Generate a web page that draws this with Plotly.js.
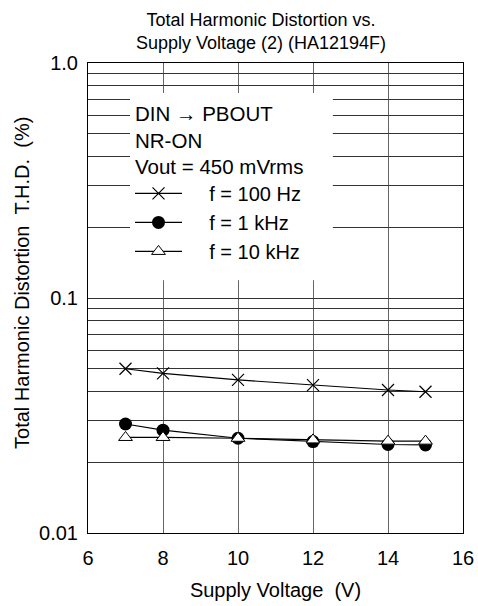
<!DOCTYPE html>
<html>
<head>
<meta charset="utf-8">
<script src="https://cdn.plot.ly/plotly-3.0.1.min.js"></script>
<style>html,body{margin:0;padding:0;background:#fff;}#chart{width:478px;height:606px;}</style>
</head>
<body>
<div id="chart"></div>
<script>
// Supply voltage (V)
const supplyVoltage = [7, 8, 10, 12, 14, 15];
// THD (%) per test frequency
const thd100Hz = [0.050, 0.0478, 0.0448, 0.0426, 0.0406, 0.0399];
const thd1kHz = [0.0291, 0.0274, 0.0253, 0.0245, 0.0238, 0.0237];
const thd10kHz = [0.0255, 0.0255, 0.0253, 0.0249, 0.0246, 0.0246];
const seriesNames = ['f = 100 Hz', 'f = 1 kHz', 'f = 10 kHz'];
const yTickVals = [0.01,0.02,0.03,0.04,0.05,0.06,0.07,0.08,0.09,0.1,0.2,0.3,0.4,0.5,0.6,0.7,0.8,0.9,1];
const yTickText = ['0.01','','','','','','','','','0.1','','','','','','','','','1.0'];
const xTickVals = [6, 8, 10, 12, 14, 16];

const FONT = 'Liberation Sans, Arial, Helvetica, sans-serif';
const pad = '\u00a0\u00a0\u00a0\u00a0';

const traces = [
  {x: supplyVoltage, y: thd100Hz, name: pad + seriesNames[0], mode: 'lines+markers',
   line: {color: '#000', width: 1.2},
   marker: {symbol: 'x-thin-open', size: 12, color: '#000', line: {color: '#000', width: 1.2}}},
  {x: supplyVoltage, y: thd1kHz, name: pad + seriesNames[1], mode: 'lines+markers',
   line: {color: '#000', width: 1.2},
   marker: {symbol: 'circle', size: 13, color: '#000', line: {color: '#000', width: 0}}},
  {x: supplyVoltage, y: thd10kHz, name: pad + seriesNames[2], mode: 'lines+markers',
   line: {color: '#000', width: 1.2},
   marker: {symbol: 'triangle-up', size: 12, color: '#fff', line: {color: '#000', width: 1}}}
];

const layout = {
  width: 478, height: 606,
  margin: {l: 88, r: 15, t: 63, b: 73},
  paper_bgcolor: '#fff', plot_bgcolor: '#fff',
  font: {family: FONT, size: 20, color: '#000'},
  title: {text: 'Total Harmonic Distortion vs.<br>Supply Voltage (2) (HA12194F)',
          font: {family: FONT, size: 18, color: '#000'},
          x: 0.546, xref: 'container', xanchor: 'center',
          y: 0.957, yref: 'container', yanchor: 'middle'},
  xaxis: {range: [6, 16], tickvals: xTickVals, ticks: '', showgrid: true, gridcolor: '#666', gridwidth: 1,
          showline: true, mirror: true, linecolor: '#000', linewidth: 1, zeroline: false,
          ticklabelstandoff: 7,
          tickfont: {family: FONT, size: 20, color: '#000'},
          title: {text: 'Supply Voltage\u00a0\u00a0(V)', font: {family: FONT, size: 20, color: '#000'}, standoff: 14}},
  yaxis: {type: 'log', range: [-2, 0], tickvals: yTickVals, ticktext: yTickText, ticks: '',
          showgrid: true, gridcolor: '#333', gridwidth: 1,
          showline: true, mirror: true, linecolor: '#000', linewidth: 1, zeroline: false,
          ticklabelstandoff: 5,
          tickfont: {family: FONT, size: 20, color: '#000'}},
  showlegend: true,
  legend: {x: 0.112, xanchor: 'left', y: 0.764, yanchor: 'top', bgcolor: 'rgba(0,0,0,0)', borderwidth: 0,
           itemwidth: 47, font: {family: FONT, size: 20, color: '#000'}},
  shapes: [{type: 'rect', xref: 'paper', yref: 'paper', x0: 0.112, x1: 0.653, y0: 0.538, y1: 0.936,
            fillcolor: '#fff', line: {width: 0}, layer: 'above'}],
  annotations: [
    {text: 'DIN \u2192 PBOUT<br>NR-ON<br>Vout = 450 mVrms', xref: 'paper', yref: 'paper',
     x: 0.12, y: 0.836, xanchor: 'left', yanchor: 'middle', align: 'left', showarrow: false,
     font: {family: FONT, size: 20.5, color: '#000'}},
    {text: 'Total Harmonic Distortion\u00a0\u00a0T.H.D.\u00a0\u00a0(%)', xref: 'paper', yref: 'paper',
     x: -0.176, y: 0.532, xanchor: 'center', yanchor: 'middle', textangle: -90, showarrow: false,
     font: {family: FONT, size: 20, color: '#000'}}
  ]
};

Plotly.newPlot('chart', traces, layout, {displayModeBar: false, staticPlot: true});
</script>
</body>
</html>
